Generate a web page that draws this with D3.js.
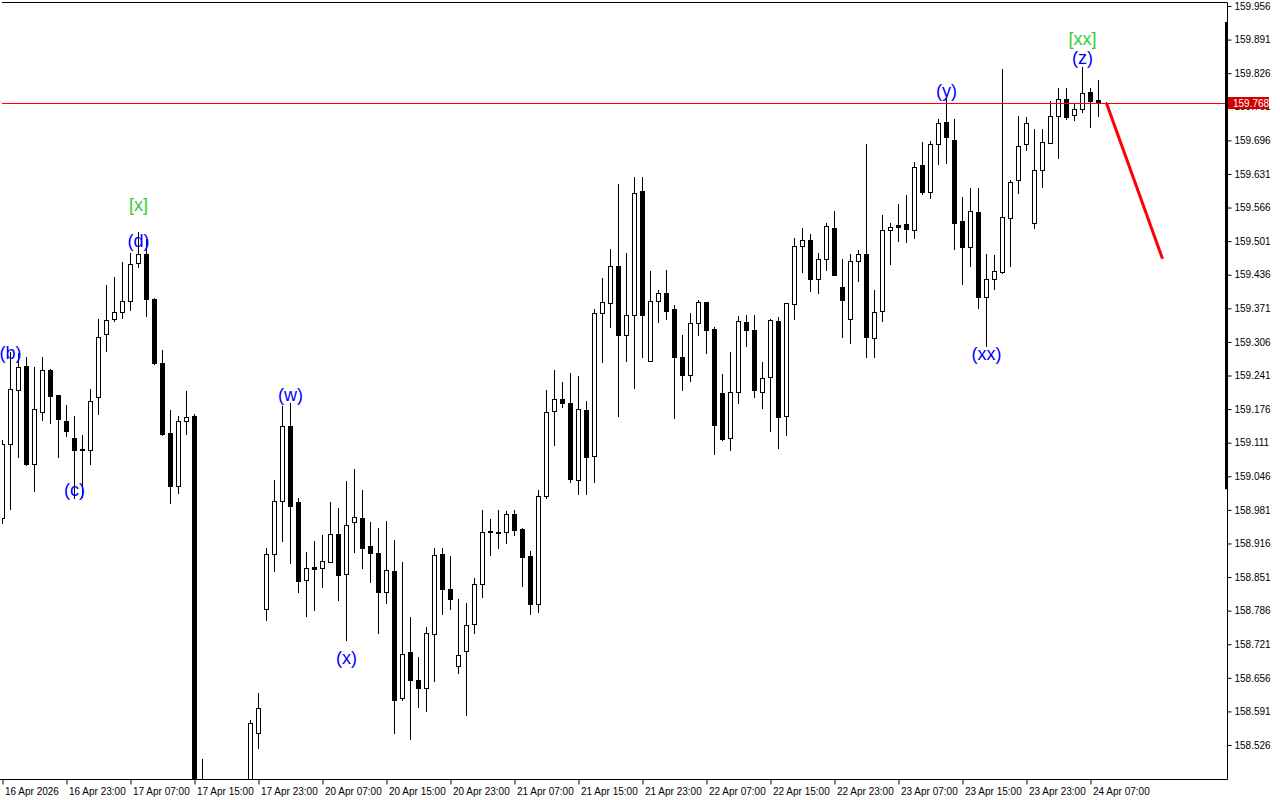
<!DOCTYPE html>
<html><head><meta charset="utf-8">
<script src="https://cdn.jsdelivr.net/npm/d3@7"></script>
<style>
body{margin:0;background:#fff;}
svg{display:block;background:#fff;}
.axis text{font-family:"Liberation Sans",Arial,sans-serif;font-size:10px;fill:#000;}
.axis line{stroke:#000;}
</style></head><body>
<svg id="c" width="1280" height="800"></svg>
<script>
// ---- data (USDJPY H1) ----
const open = [158.965,159.108,159.212,159.259,159.069,159.171,159.252,159.203,159.153,159.120,
159.098,159.097,159.199,159.321,159.350,159.363,159.385,159.458,159.476,159.389,
159.265,159.129,159.027,159.152,159.163,158.380,158.360,158.410,158.380,158.400,
158.420,158.440,158.549,158.789,158.895,158.998,159.143,158.996,158.845,158.870,
158.868,158.881,158.934,158.856,158.957,158.965,158.911,158.897,158.823,158.862,
158.616,158.705,158.652,158.637,158.740,158.895,158.827,158.678,158.707,158.760,
158.837,158.938,158.938,158.938,158.973,158.944,158.891,158.798,159.007,159.172,
159.195,159.187,159.038,159.174,159.086,159.361,159.381,159.452,159.319,159.358,
159.598,159.269,159.385,159.400,159.370,159.277,159.241,159.342,159.383,159.331,
159.207,159.121,159.209,159.345,159.329,159.210,159.238,159.346,159.162,159.379,
159.491,159.503,159.428,159.466,159.526,159.412,159.350,159.462,159.476,159.313,
159.365,159.522,159.532,159.534,159.522,159.648,159.597,159.688,159.732,159.697,
159.539,159.489,159.557,159.392,159.427,159.441,159.545,159.619,159.688,159.537,
159.638,159.690,159.743,159.777,159.745,159.756,159.789,159.774,159.768];
const high = [159.116,159.287,159.284,159.277,159.258,159.277,159.254,159.203,159.184,159.163,
159.126,159.215,159.350,159.416,159.432,159.460,159.478,159.518,159.505,159.391,
159.291,159.174,159.163,159.211,159.167,158.498,158.440,158.450,158.430,158.450,
158.455,158.574,158.627,158.907,159.039,159.182,159.188,159.003,158.899,158.921,
158.932,158.996,158.985,159.037,159.060,159.019,158.958,158.945,158.959,158.923,
158.881,158.774,158.697,158.755,158.907,158.907,158.892,158.809,158.800,158.849,
158.981,158.963,158.981,158.979,158.981,158.945,158.902,159.019,159.212,159.252,
159.228,159.245,159.240,159.192,159.369,159.430,159.486,159.612,159.478,159.626,
159.626,159.443,159.406,159.445,159.378,159.319,159.362,159.387,159.383,159.334,
159.244,159.287,159.356,159.358,159.358,159.267,159.350,159.355,159.381,159.508,
159.526,159.514,159.478,159.537,159.559,159.466,159.476,159.483,159.689,159.406,
159.552,159.536,159.573,159.590,159.654,159.692,159.695,159.737,159.778,159.737,
159.586,159.604,159.604,159.476,159.474,159.834,159.619,159.743,159.741,159.718,
159.718,159.772,159.797,159.797,159.766,159.837,159.797,159.813,159.771];
const low = [158.956,158.982,159.084,159.068,159.018,159.155,159.149,159.084,159.124,159.003,
159.005,159.070,159.166,159.289,159.347,159.353,159.368,159.450,159.356,159.264,
159.126,158.994,159.014,159.127,158.330,158.310,158.320,158.360,158.330,158.370,
158.390,158.420,158.520,158.767,158.863,158.921,158.878,158.822,158.776,158.788,
158.832,158.881,158.807,158.729,158.900,158.869,158.842,158.742,158.800,158.550,
158.614,158.538,158.600,158.592,158.650,158.779,158.789,158.666,158.584,158.743,
158.813,158.894,158.908,158.916,158.932,158.834,158.779,158.784,159.003,159.107,
159.181,159.034,159.011,159.011,159.034,159.268,159.334,159.163,159.270,159.216,
159.277,159.269,159.345,159.351,159.158,159.212,159.231,159.319,159.285,159.090,
159.116,159.096,159.187,159.299,159.200,159.178,159.134,159.101,159.126,159.351,
159.442,159.405,159.401,159.446,159.436,159.316,159.303,159.423,159.277,159.277,
159.347,159.457,159.502,159.500,159.508,159.592,159.584,159.650,159.652,159.485,
159.419,159.452,159.372,159.298,159.409,159.439,159.452,159.594,159.677,159.526,
159.606,159.690,159.661,159.738,159.735,159.750,159.722,159.743,159.766];
const close = [159.108,159.214,159.257,159.070,159.176,159.251,159.202,159.156,159.134,159.096,
159.096,159.191,159.316,159.348,159.363,159.385,159.457,159.476,159.389,159.265,
159.127,159.027,159.153,159.161,158.380,158.360,158.410,158.380,158.400,158.420,
158.440,158.569,158.598,158.895,158.998,159.143,158.989,158.844,158.868,158.867,
158.883,158.934,158.854,158.951,158.968,158.908,158.898,158.823,158.864,158.613,
158.703,158.652,158.636,158.742,158.893,158.827,158.809,158.700,158.758,158.837,
158.938,158.940,158.936,158.973,158.943,158.890,158.799,159.008,159.170,159.195,
159.188,159.040,159.176,159.083,159.361,159.383,159.452,159.319,159.359,159.594,
159.359,159.385,159.400,159.366,159.277,159.241,159.342,159.383,159.330,159.146,
159.118,159.209,159.346,159.330,159.212,159.236,159.348,159.160,159.381,159.491,
159.503,159.428,159.466,159.530,159.436,159.388,159.462,159.476,159.315,159.364,
159.522,159.529,159.529,159.524,159.644,159.597,159.688,159.729,159.702,159.537,
159.489,159.559,159.392,159.427,159.443,159.547,159.615,159.685,159.729,159.638,
159.693,159.744,159.777,159.742,159.756,159.787,159.773,159.768,159.768];

const priceTicks = [159.956,159.891,159.826,159.761,159.696,159.631,159.566,159.501,159.436,159.371,
159.306,159.241,159.176,159.111,159.046,158.981,158.916,158.851,158.786,158.721,158.656,158.591,158.526];
const timeTickIndex = [0,8,16,24,32,40,48,56,64,72,80,88,96,104,112,120,128,136];
const timeTickLabels = ["16 Apr 2026","16 Apr 23:00","17 Apr 07:00","17 Apr 15:00","17 Apr 23:00",
"20 Apr 07:00","20 Apr 15:00","20 Apr 23:00","21 Apr 07:00","21 Apr 15:00","21 Apr 23:00",
"22 Apr 07:00","22 Apr 15:00","22 Apr 23:00","23 Apr 07:00","23 Apr 15:00","23 Apr 23:00","24 Apr 07:00"];

const bidPrice = 159.768;
const waveText  = ["(b)","(c)","(d)","[x]","(w)","(x)","(y)","(xx)","(z)","[xx]"];
const waveIndex = [1,9,17,17,36,43,118,123,135,135];
const wavePrice = [159.285,159.019,159.501,159.571,159.203,158.694,159.792,159.283,159.855,159.892];
const waveLevel = ["minor","minor","minor","major","minor","minor","minor","minor","minor","major"];
const forecastIndex = [138,145];
const forecastPrice = [159.768,159.467];
const scaleBar = [159.021,159.925];

// ---- layout ----
const svg = d3.select("#c");
const L = 2, R = 1227, T = 2, B = 779;
const x = d3.scaleLinear().domain([0,138]).range([2.5, 2.5 + 8*138]);
const y = d3.scaleLinear().domain([158.526,159.956]).range([745,6]);

svg.append("defs").append("clipPath").attr("id","plot")
  .append("rect").attr("x",L).attr("y",T).attr("width",R-L).attr("height",B-T);

const candles = open.map((o,i)=>({i,o,h:high[i],l:low[i],c:close[i]}));
const g = svg.append("g").attr("clip-path","url(#plot)");

// wicks
g.selectAll("line.wick").data(candles).join("line").attr("class","wick")
  .attr("x1",d=>x(d.i)).attr("x2",d=>x(d.i))
  .attr("y1",d=>Math.round(y(d.h))).attr("y2",d=>Math.round(y(d.l))+1)
  .attr("stroke","#000").attr("stroke-width",1);

// bodies
g.selectAll("rect.body").data(candles).join("rect").attr("class","body")
  .each(function(d){
    const top = Math.round(y(Math.max(d.o,d.c)));
    const bot = Math.round(y(Math.min(d.o,d.c)));
    const el = d3.select(this);
    if (d.c > d.o) {
      el.attr("x",x(d.i)-2).attr("y",top+0.5).attr("width",4).attr("height",Math.max(bot-top,0))
        .attr("fill","#fff").attr("stroke","#000").attr("stroke-width",1);
    } else {
      el.attr("x",x(d.i)-2.5).attr("y",top).attr("width",5).attr("height",Math.max(bot-top+1,1))
        .attr("fill","#000");
    }
  });

// bid line
const by = Math.round(y(bidPrice))+0.5;
svg.append("line").attr("x1",L).attr("x2",R).attr("y1",by).attr("y2",by)
  .attr("stroke","#ff0000").attr("stroke-width",1).attr("shape-rendering","crispEdges");

// forecast line
svg.append("line")
  .attr("x1",x(forecastIndex[0])).attr("y1",y(forecastPrice[0]))
  .attr("x2",x(forecastIndex[1])).attr("y2",y(forecastPrice[1]))
  .attr("stroke","#ff0000").attr("stroke-width",3);

// wave labels
svg.selectAll("text.wave").data(waveText).join("text").attr("class","wave")
  .attr("x",(d,i)=>x(waveIndex[i])).attr("y",(d,i)=>y(wavePrice[i]))
  .attr("text-anchor","middle").attr("dominant-baseline","central")
  .attr("font-family","'Liberation Sans',Arial,sans-serif").attr("font-size",18)
  .attr("fill",(d,i)=>waveLevel[i]==="major"?"#32cd32":"#0000ff")
  .text(d=>d);

// frame
svg.append("path").attr("d",`M${L},${T+0.5}H${R+0.5}V${B+0.5}H0`)
  .attr("fill","none").attr("stroke","#000").attr("stroke-width",1);

// scale bar at right edge
svg.append("rect").attr("x",R-2).attr("width",3)
  .attr("y",y(scaleBar[1])).attr("height",y(scaleBar[0])-y(scaleBar[1])).attr("fill","#000");

// right price axis
const ya = svg.append("g").attr("class","axis").attr("transform",`translate(${R+0.5},0)`)
  .call(d3.axisRight(y).tickValues(priceTicks).tickFormat(d3.format(".3f")).tickSize(4).tickPadding(3));
ya.select(".domain").remove();

// bottom time axis
const xa = svg.append("g").attr("class","axis").attr("transform",`translate(0,${B+0.5})`)
  .call(d3.axisBottom(x).tickValues(timeTickIndex).tickFormat((d,i)=>timeTickLabels[i]).tickSize(5).tickPadding(3));
xa.select(".domain").remove();
xa.selectAll("text").attr("text-anchor","start").attr("dx",2);

// price tag (covers the neighbouring tick label, as in the terminal)
const tag = svg.append("g").attr("transform",`translate(${R+1},${Math.round(y(bidPrice))})`);
tag.append("rect").attr("x",0).attr("y",-6).attr("width",41).attr("height",12).attr("fill","#d40000");
tag.append("text").attr("x",5).attr("y",0).attr("dy","0.35em")
  .attr("font-family","'Liberation Sans',Arial,sans-serif").attr("font-size",10)
  .attr("fill","#fff").text(d3.format(".3f")(bidPrice));
</script>
</body></html>
